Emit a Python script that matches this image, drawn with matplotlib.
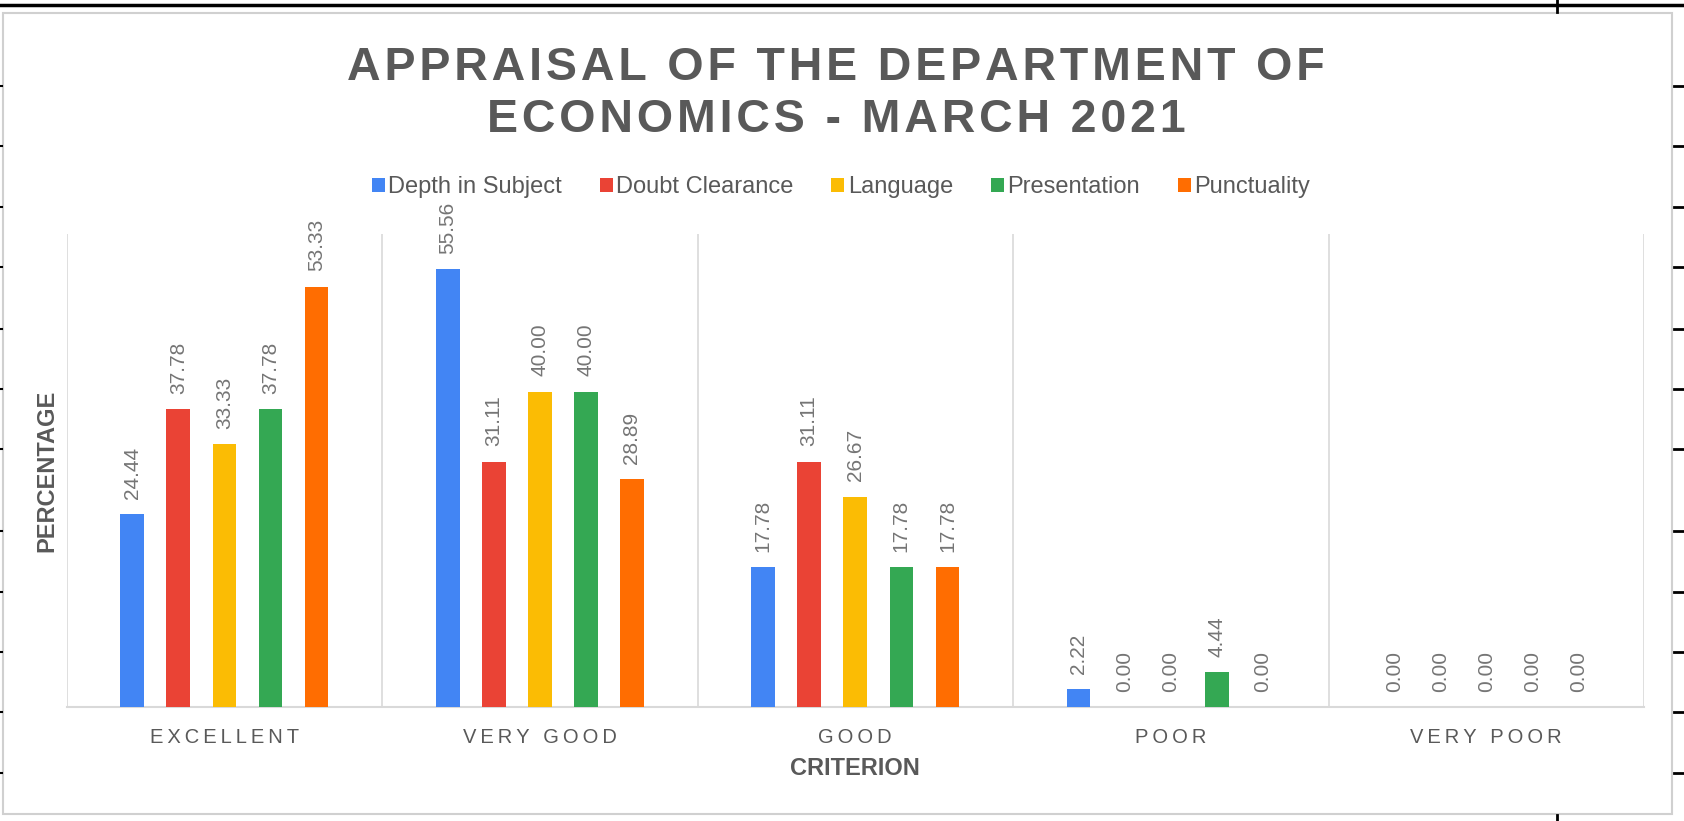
import matplotlib
matplotlib.use("Agg")
import matplotlib.pyplot as plt
from matplotlib.lines import Line2D
from matplotlib.patches import Rectangle
import numpy as np

plt.rcParams["font.family"] = ["Liberation Sans", "DejaVu Sans"]

categories = ["EXCELLENT", "VERY GOOD", "GOOD", "POOR", "VERY POOR"]
series = ["Depth in Subject", "Doubt Clearance", "Language", "Presentation", "Punctuality"]
depth = [24.44, 55.56, 17.78, 2.22, 0.00]
doubt = [37.78, 31.11, 31.11, 0.00, 0.00]
language = [33.33, 40.00, 26.67, 0.00, 0.00]
presentation = [37.78, 40.00, 17.78, 4.44, 0.00]
punctuality = [53.33, 28.89, 17.78, 0.00, 0.00]
values = [depth, doubt, language, presentation, punctuality]
colors = ["#4285F4", "#EA4335", "#FBBC04", "#34A853", "#FF6D01"]
title_lines = ["APPRAISAL OF THE DEPARTMENT OF", "ECONOMICS - MARCH 2021"]

TXT = "#595959"
LBL = "#757575"
GRID = "#d9d9d9"

W, H = 1684, 821
fig = plt.figure(figsize=(W / 100, H / 100), dpi=100)

# screenshot surroundings: chart border and sheet edges
fig.add_artist(Rectangle((3 / W, 1 - 814 / H), (1672 - 3) / W, (814 - 13) / H,
                         transform=fig.transFigure, fill=False, ec="#d0d0d0", lw=1.5))
fig.add_artist(Line2D([0, 1], [1 - 5 / H] * 2, transform=fig.transFigure, color="black", lw=2.5))
fig.add_artist(Line2D([1557 / W] * 2, [1, 1 - 12 / H], transform=fig.transFigure, color="black", lw=2))
fig.add_artist(Line2D([1557 / W] * 2, [0, 6 / H], transform=fig.transFigure, color="black", lw=2))
for yy in [86, 146, 207, 267, 329, 389, 449, 531, 592, 652, 712, 773]:
    fig.add_artist(Line2D([1674 / W, 1], [1 - yy / H] * 2, transform=fig.transFigure, color="black", lw=2))
    fig.add_artist(Line2D([0, 2 / W], [1 - yy / H] * 2, transform=fig.transFigure, color="black", lw=1.5))

ax = fig.add_axes([66.6 / W, 1 - 707 / H, (1644 - 66.6) / W, (707 - 234) / H])

x = np.arange(len(categories))
step = 0.146
width = 0.075
for j, (name, vals, c) in enumerate(zip(series, values, colors)):
    pos = x + (j - 2) * step
    ax.bar(pos, vals, width, color=c, label=name, zorder=3)
    for px, v in zip(pos, vals):
        ax.annotate(f"{v:.2f}", (px, v), xytext=(0, 11), textcoords="offset points",
                    rotation=90, ha="center", va="bottom", fontsize=15, color=LBL)

ax.set_xlim(-0.5, len(categories) - 0.5)
ax.set_ylim(0, 60)
for k in range(len(categories) + 1):
    ax.axvline(k - 0.5, color=GRID, lw=1.2, zorder=1)
for s in ["top", "right", "left"]:
    ax.spines[s].set_visible(False)
ax.spines["bottom"].set_color(GRID)
ax.spines["bottom"].set_linewidth(1.5)
ax.set_yticks([])
ax.set_xticks(x)
ax.set_xticklabels(["\u2009".join(c) for c in categories], fontsize=14.5, color=TXT)
ax.tick_params(axis="x", length=0, pad=15)

ax.set_xlabel("CRITERION", fontsize=17, fontweight="bold", color=TXT, labelpad=7)
ax.set_ylabel("PERCENTAGE", fontsize=17, fontweight="bold", color=TXT, labelpad=6)

# letter-spaced title
for i, line in enumerate(title_lines):
    fig.text(836 / W, 1 - (68 + 52 * i) / H, "\u200a".join(line), ha="center", va="center",
             fontsize=33.5, fontweight="bold", color=TXT)

handles, labels = ax.get_legend_handles_labels()
fig.legend(handles, labels, loc="center", bbox_to_anchor=(841 / W, 1 - 187 / H), ncol=5,
           frameon=False, fontsize=17, handlelength=0.55, handleheight=0.55, handletextpad=0.15,
           columnspacing=1.6, labelcolor=TXT)

fig.savefig("out.png", dpi=100, facecolor="white")
